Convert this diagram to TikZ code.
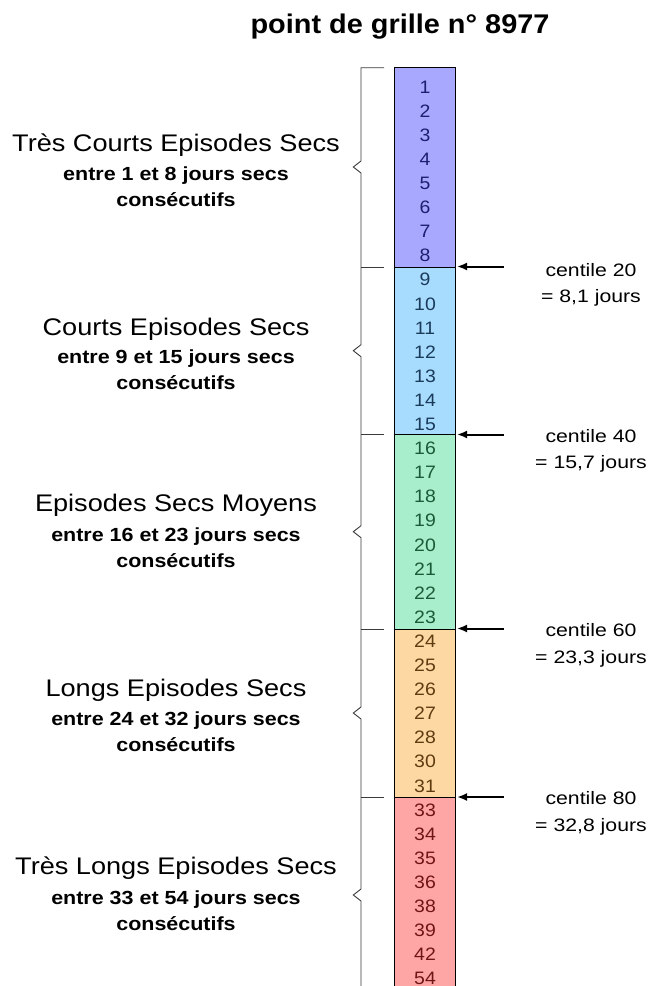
\documentclass[tikz,border=0pt]{standalone}
\usepackage{fontspec}
\setmainfont{Liberation Sans}
\newfontfamily\regfont[FakeStretch=1.13]{Liberation Sans}
\newfontfamily\numfont[FakeStretch=1.08]{Liberation Sans}
\newfontfamily\centfont[FakeStretch=1.18]{Liberation Sans}
\newfontfamily\titfont[FakeStretch=1.07]{Liberation Sans}
\usetikzlibrary{arrows.meta}
\definecolor{cA}{HTML}{A8A8FE}
\definecolor{cB}{HTML}{A8DCFE}
\definecolor{cC}{HTML}{A8EECC}
\definecolor{cD}{HTML}{FED8A2}
\definecolor{cE}{HTML}{FEA6A6}
\definecolor{tA}{HTML}{1E1E70}
\definecolor{tB}{HTML}{1A3A5A}
\definecolor{tC}{HTML}{1B5A36}
\definecolor{tD}{HTML}{5E3C12}
\definecolor{tE}{HTML}{701414}
\definecolor{brk}{HTML}{3A3A3A}
\tikzset{
  num/.style={anchor=base, inner sep=0pt, font={\fontsize{18}{20}\numfont}},
  bigtxt/.style={anchor=base, inner sep=0pt, font={\fontsize{24}{28}\regfont}},
  boldtxt/.style={anchor=base, inner sep=0pt, font={\fontsize{19}{22}\regfont\bfseries}},
  centtxt/.style={anchor=base, inner sep=0pt, font={\fontsize{18}{20}\centfont}},
  brline/.style={draw=brk, line width=0.9pt},
  arr/.style={line width=2pt, -{Latex[length=10pt,width=8pt]}},
}
\begin{document}
\begin{tikzpicture}[x=1pt,y=-1pt]
\useasboundingbox (0,0) rectangle (651,986);
\clip (0,0) rectangle (651,986);
% title
\node[anchor=base, inner sep=0pt, font={\fontsize{27}{30}\titfont\bfseries}] (title) at (400,33) {point de grille n° 8977};
% column segments
\fill[cA] (394.5,67.7) rectangle (455.5,267);
\fill[cB] (394.5,267) rectangle (455.5,434.5);
\fill[cC] (394.5,434.5) rectangle (455.5,629);
\fill[cD] (394.5,629) rectangle (455.5,797);
\fill[cE] (394.5,797) rectangle (455.5,995);
\draw[line width=0.9pt] (394.5,995) -- (394.5,67.7) -- (455.5,67.7) -- (455.5,995);
\foreach \yy in {267,434.5,629,797} \draw[line width=0.9pt] (394.5,\yy) -- (455.5,\yy);
% numbers
\foreach \n [count=\k from 0] in {1,2,3,4,5,6,7,8}
  \node[num, text=tA] (n\n) at (425,{86.7+24.1*\k+6.4}) {\n};
\foreach \n [count=\k from 8] in {9,10,11,12,13,14,15}
  \node[num, text=tB] (n\n) at (425,{86.7+24.1*\k+6.4}) {\n};
\foreach \n [count=\k from 15] in {16,17,18,19,20,21,22,23}
  \node[num, text=tC] (n\n) at (425,{86.7+24.1*\k+6.4}) {\n};
\foreach \n [count=\k from 23] in {24,25,26,27,28,30,31}
  \node[num, text=tD] (n\n) at (425,{86.7+24.1*\k+6.4}) {\n};
\foreach \n [count=\k from 30] in {33,34,35,36,38,39,42,54}
  \node[num, text=tE] (n\n) at (425,{86.7+24.1*\k+6.4}) {\n};
% brackets
\draw[brline] (384,67.7) -- (361,67.7) -- (361,161) -- (353.3,167) -- (361,173) -- (361,267);
\draw[brline] (361,267) -- (361,344.7) -- (353.3,350.7) -- (361,356.7) -- (361,434.5);
\draw[brline] (361,434.5) -- (361,525.7) -- (353.3,531.7) -- (361,537.7) -- (361,629);
\draw[brline] (361,629) -- (361,707) -- (353.3,713) -- (361,719) -- (361,797);
\draw[brline] (361,797) -- (361,889) -- (353.3,895) -- (361,901) -- (361,995);
\foreach \yy in {267,434.5,629,797} \draw[brline] (361,\yy) -- (384,\yy);
% left labels
\node[bigtxt] (l1a) at (176,151) {Très Courts Episodes Secs};
\node[boldtxt] (l1b) at (176,180) {entre 1 et 8 jours secs};
\node[boldtxt] (l1c) at (176,206) {consécutifs};
\node[bigtxt] (l2a) at (176,335) {Courts Episodes Secs};
\node[boldtxt] (l2b) at (176,363) {entre 9 et 15 jours secs};
\node[boldtxt] (l2c) at (176,389) {consécutifs};
\node[bigtxt] (l3a) at (176,511.5) {Episodes Secs Moyens};
\node[boldtxt] (l3b) at (176,541) {entre 16 et 23 jours secs};
\node[boldtxt] (l3c) at (176,567) {consécutifs};
\node[bigtxt] (l4a) at (176,696) {Longs Episodes Secs};
\node[boldtxt] (l4b) at (176,725) {entre 24 et 32 jours secs};
\node[boldtxt] (l4c) at (176,751) {consécutifs};
\node[bigtxt] (l5a) at (176,874) {Très Longs Episodes Secs};
\node[boldtxt] (l5b) at (176,904) {entre 33 et 54 jours secs};
\node[boldtxt] (l5c) at (176,930) {consécutifs};
% centile arrows
\coordinate (s20) at (504,266.5); \coordinate (e20) at (457,266.5);
\coordinate (s40) at (504,434.5); \coordinate (e40) at (457,434.5);
\coordinate (s60) at (504,628.5); \coordinate (e60) at (457,628.5);
\coordinate (s80) at (504,797); \coordinate (e80) at (457,797);
\draw[arr] (s20) -- (e20);
\draw[arr] (s40) -- (e40);
\draw[arr] (s60) -- (e60);
\draw[arr] (s80) -- (e80);
% centile labels
\node[centtxt] (c20a) at (591,276.5) {centile 20};
\node[centtxt] (c20b) at (591,302.5) {= 8,1 jours};
\node[centtxt] (c40a) at (591,442) {centile 40};
\node[centtxt] (c40b) at (591,468) {= 15,7 jours};
\node[centtxt] (c60a) at (591,636.5) {centile 60};
\node[centtxt] (c60b) at (591,663) {= 23,3 jours};
\node[centtxt] (c80a) at (591,804.5) {centile 80};
\node[centtxt] (c80b) at (591,831) {= 32,8 jours};
\end{tikzpicture}
\end{document}
